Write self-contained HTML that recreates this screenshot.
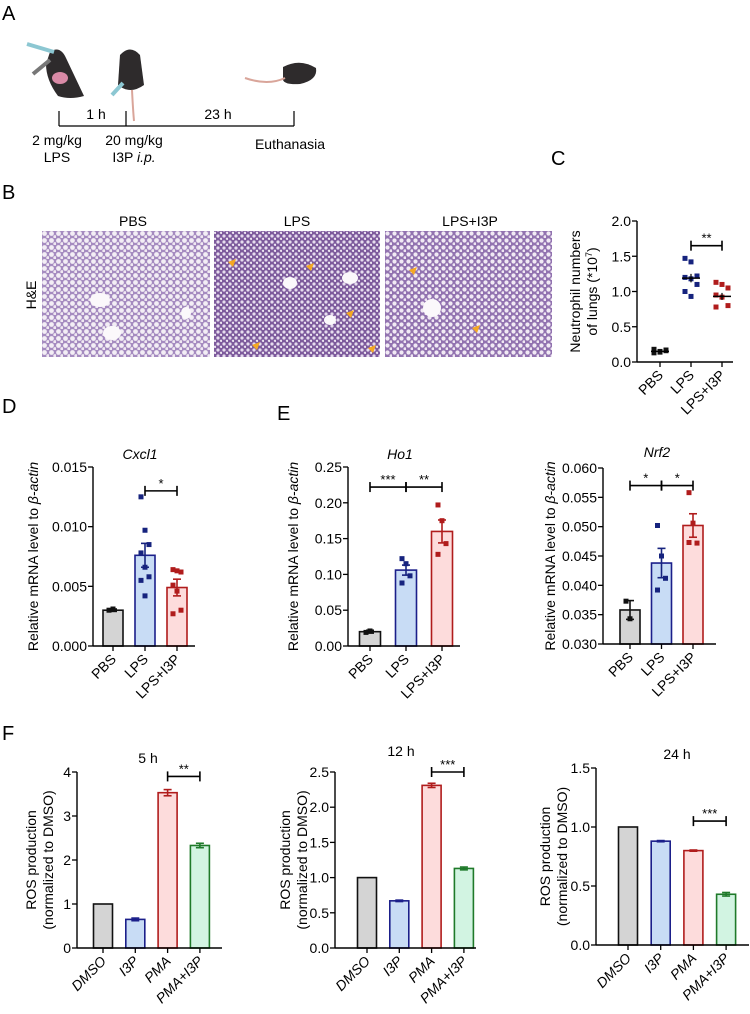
<!DOCTYPE html>
<html><head><meta charset="utf-8"><style>
html,body{margin:0;padding:0;background:#fff;}
svg{display:block;font-family:"Liberation Sans",Arial,sans-serif;}
</style></head><body>
<svg id="fig" width="750" height="1014" viewBox="0 0 750 1014" xmlns="http://www.w3.org/2000/svg">
<defs>
<pattern id="lungL" width="7" height="7" patternUnits="userSpaceOnUse"><rect width="7" height="7" fill="#a58bc0"/><circle cx="2.5" cy="2.5" r="2.4" fill="#f3eef5"/><circle cx="6" cy="5.8" r="1.7" fill="#f0e9f2"/></pattern>
<pattern id="lungD" width="6" height="6" patternUnits="userSpaceOnUse"><rect width="6" height="6" fill="#7d5a9c"/><circle cx="2" cy="2" r="1.6" fill="#e6dcee"/><circle cx="5" cy="4.8" r="1.2" fill="#ece4f1"/></pattern>
<pattern id="lungM" width="7" height="7" patternUnits="userSpaceOnUse"><rect width="7" height="7" fill="#9273b0"/><circle cx="2.5" cy="2.5" r="2.1" fill="#f1eaf4"/><circle cx="6" cy="5.8" r="1.5" fill="#efe7f2"/></pattern>
</defs>
<g font-size="20">
<text x="2" y="20">A</text>
<text x="2" y="199">B</text>
<text x="551" y="165">C</text>
<text x="2" y="413">D</text>
<text x="277" y="420">E</text>
<text x="2" y="740">F</text>
</g>
<!-- Panel A schematic -->
<g>
<path d="M50 52 Q60 45 66 58 L84 96 Q70 100 58 96 Q46 80 46 64 Z" fill="#2e2b2c"/>
<ellipse cx="60" cy="78" rx="8" ry="6" fill="#d98aa6"/>
<path d="M27 44 L54 52" stroke="#8cc7d2" stroke-width="4"/>
<path d="M33 74 L50 60" stroke="#777" stroke-width="4"/>
<path d="M120 55 Q130 44 140 55 L144 85 Q130 95 118 85 Z" fill="#2e2b2c"/>
<path d="M132 90 Q133 110 134 121" stroke="#d9a59a" stroke-width="2" fill="none"/>
<path d="M112 95 L123 83" stroke="#8cc7d2" stroke-width="4"/>
<path d="M283 67 Q300 58 316 68 Q318 80 300 84 Q285 85 283 80 Z" fill="#2e2b2c"/>
<path d="M245 78 Q268 86 285 78" stroke="#d9a59a" stroke-width="2" fill="none"/>
<g stroke="#000" stroke-width="1.2">
<line x1="59" y1="126" x2="294" y2="126"/><line x1="59" y1="111" x2="59" y2="126"/><line x1="126" y1="111" x2="126" y2="126"/><line x1="294" y1="111" x2="294" y2="126"/>
</g>
<g font-size="14" text-anchor="middle">
<text x="96" y="119">1 h</text><text x="218" y="119">23 h</text>
<text x="57" y="145">2 mg/kg</text><text x="57" y="162">LPS</text>
<text x="134" y="145">20 mg/kg</text><text x="134" y="162">I3P <tspan font-style="italic">i.p.</tspan></text>
<text x="290" y="149">Euthanasia</text>
</g>
</g>
<!-- Panel B -->
<g font-size="14" text-anchor="middle">
<text x="133" y="226">PBS</text><text x="297" y="226">LPS</text><text x="470" y="226">LPS+I3P</text>
<text transform="translate(36,295) rotate(-90)">H&amp;E</text>
<rect x="42" y="231" width="168" height="126" fill="url(#lungL)"/>
<rect x="214" y="231" width="166" height="126" fill="url(#lungD)"/>
<rect x="385" y="231" width="167" height="126" fill="url(#lungM)"/>
<g fill="#fbf8fb"><ellipse cx="100" cy="300" rx="10" ry="7"/><ellipse cx="112" cy="333" rx="9" ry="7"/><ellipse cx="186" cy="313" rx="5" ry="6"/><ellipse cx="290" cy="283" rx="7" ry="6"/><ellipse cx="330" cy="320" rx="6" ry="5"/><ellipse cx="432" cy="308" rx="9" ry="9"/><ellipse cx="350" cy="278" rx="8" ry="6"/></g>
<g fill="#f4a822"><path d="M228 262 l8 -3 l-3 8 z"/><path d="M306 266 l8 -3 l-3 8 z"/><path d="M346 313 l8 -3 l-3 8 z"/><path d="M252 345 l8 -3 l-3 8 z"/><path d="M368 348 l8 -3 l-3 8 z"/><path d="M409 270 l8 -3 l-3 8 z"/><path d="M472 328 l8 -3 l-3 8 z"/></g>
</g>
<g id="charts"></g>
</svg>
<script>
// Panel C
const cCats = ["PBS","LPS","LPS+I3P"];
const cPbsPts = [0.13,0.15,0.17,0.18,0.14,0.16];
const cLpsPts = [1.47,1.42,1.22,1.2,1.18,1.1,1.0,0.93];
const cI3pPts = [1.13,1.1,1.05,0.95,0.92,0.8,0.78];
const cMeans = [0.15,1.19,0.93];
const cSems = [0.01,0.06,0.05];
const cTicks = [0,0.5,1.0,1.5,2.0];
const cTickLabels = ["0.0","0.5","1.0","1.5","2.0"];
// Panel D Cxcl1
const dCats = ["PBS","LPS","LPS+I3P"];
const dMeans = [0.003,0.0076,0.0049];
const dSems = [0.0001,0.001,0.0007];
const dPbsPts = [0.003,0.0031];
const dLpsPts = [0.0125,0.0097,0.0085,0.0078,0.0066,0.0058,0.0055,0.0042];
const dI3pPts = [0.0064,0.0063,0.0062,0.0051,0.0046,0.0030,0.0027];
const dTicks = [0,0.005,0.010,0.015];
const dTickLabels = ["0.000","0.005","0.010","0.015"];
// Panel E Ho1
const hMeans = [0.02,0.106,0.16];
const hSems = [0.002,0.007,0.016];
const hPbsPts = [0.019,0.021];
const hLpsPts = [0.122,0.115,0.098,0.088];
const hI3pPts = [0.197,0.175,0.143,0.128];
const hTicks = [0,0.05,0.10,0.15,0.20,0.25];
const hTickLabels = ["0.00","0.05","0.10","0.15","0.20","0.25"];
// Panel E Nrf2
const nMeans = [0.0358,0.0438,0.0502];
const nSems = [0.0016,0.0025,0.002];
const nPbsPts = [0.0373,0.0343];
const nLpsPts = [0.0502,0.045,0.0412,0.0392];
const nI3pPts = [0.0558,0.0506,0.0472,0.0473];
const nTicks = [0.030,0.035,0.040,0.045,0.050,0.055,0.060];
const nTickLabels = ["0.030","0.035","0.040","0.045","0.050","0.055","0.060"];
// Panel F
const fCats = ["DMSO","I3P","PMA","PMA+I3P"];
const f5Means = [1,0.65,3.53,2.33];
const f5Errs = [0,0.03,0.07,0.05];
const f12Means = [1,0.67,2.31,1.13];
const f12Errs = [0,0.01,0.03,0.02];
const f24Means = [1,0.88,0.80,0.43];
const f24Errs = [0,0.005,0.005,0.015];
const f5Ticks = [0,1,2,3,4];
const f5TickLabels = ["0","1","2","3","4"];
const f12Ticks = [0,0.5,1.0,1.5,2.0,2.5];
const f12TickLabels = ["0.0","0.5","1.0","1.5","2.0","2.5"];
const f24Ticks = [0,0.5,1.0,1.5];
const f24TickLabels = ["0.0","0.5","1.0","1.5"];

const NS="http://www.w3.org/2000/svg";
const root=document.getElementById('charts');
function mk(tag,attrs,parent){const e=document.createElementNS(NS,tag);for(const k in attrs)e.setAttribute(k,attrs[k]);(parent||root).appendChild(e);return e;}
const FILLS=["#d4d4d4","#c8dcf5","#fddcdc","#d2f4e2"];
const STROKES=["#111","#1b1f8a","#b01c1c","#1f7a2a"];
const PTS=["#111","#16237e","#b01c1c"];

function chart(o){
  const g=mk('g',{});
  
  
  const y=v=>o.yBot-(v-o.vmin)/(o.vmax-o.vmin)*(o.yBot-o.yTop);
  const x=i=>o.ax+o.off+i*o.step;
  if(o.means){o.means.forEach((m,i)=>{
    const b=mk('rect',{x:x(i)-o.bw/2,y:y(m),width:o.bw,height:o.yBot-y(m),fill:FILLS[i],stroke:STROKES[i],'stroke-width':1.6},g);
    
    
  });}
  if(o.pts){o.pts.forEach((arr,i)=>{arr.forEach((v,j)=>{
    const dx=((j%3)-1)*(o.jit||5);
    const p=mk('rect',{x:x(i)+dx-2.5,y:y(v)-2.5,width:5,height:5,fill:PTS[i]},g);
    
    
  });});}
  if(o.means){o.means.forEach((m,i)=>{const e=o.errs[i];if(!e)return;
    const col=o.pts?PTS[i]:STROKES[i];
    mk('line',{x1:x(i),x2:x(i),y1:y(m-e),y2:y(m+e),stroke:col,'stroke-width':1.6},g);
    mk('line',{x1:x(i)-4,x2:x(i)+4,y1:y(m+e),y2:y(m+e),stroke:col,'stroke-width':1.6},g);
    mk('line',{x1:x(i)-4,x2:x(i)+4,y1:y(m-e),y2:y(m-e),stroke:col,'stroke-width':1.6},g);
  });}
  const ya=mk('line',{x1:o.ax,x2:o.ax,y1:o.yTop,y2:o.yBot,stroke:'#000','stroke-width':1.4},g);
  
  const xa=mk('line',{x1:o.ax,x2:o.xEnd,y1:o.yBot,y2:o.yBot,stroke:'#000','stroke-width':1.4},g);
  
  o.ticks.forEach((t,k)=>{mk('line',{x1:o.ax-5,x2:o.ax,y1:y(t),y2:y(t),stroke:'#000','stroke-width':1.3},g);
    const tl=mk('text',{x:o.ax-6,y:y(t)+5,'font-size':o.tfs||14,'text-anchor':'end'},g);tl.textContent=o.tickLabels[k];
    });
  o.cats.forEach((c,i)=>{mk('line',{x1:x(i),x2:x(i),y1:o.yBot,y2:o.yBot+5,stroke:'#000','stroke-width':1.3},g);
    const t=mk('text',{transform:`translate(${x(i)+4},${o.yBot+14}) rotate(-45)`,'font-size':14,'text-anchor':'end','font-style':o.ital?'italic':'normal'},g);
    t.textContent=c;});
  if(o.title){const t=mk('text',{x:o.titleX,y:o.titleY,'font-size':14,'text-anchor':'middle','font-style':o.titleItal?'italic':'normal'},g);t.textContent=o.title;
    }
  const yt=mk('text',{transform:`translate(${o.ytx},${(o.yTop+o.yBot)/2}) rotate(-90)`,'font-size':14,'text-anchor':'middle'},g);
  
  o.ytitle.forEach((ln,k)=>{const s=mk('tspan',{x:0,dy:k?17:0},yt);s.innerHTML=ln;});
  (o.brackets||[]).forEach(b=>{const yy=y(b[2]);
    mk('line',{x1:x(b[0]),x2:x(b[1]),y1:yy,y2:yy,stroke:'#000','stroke-width':1.6},g);
    mk('line',{x1:x(b[0]),x2:x(b[0]),y1:yy-5,y2:yy+5,stroke:'#000','stroke-width':1.6},g);
    mk('line',{x1:x(b[1]),x2:x(b[1]),y1:yy-5,y2:yy+5,stroke:'#000','stroke-width':1.6},g);
    const s=mk('text',{x:(x(b[0])+x(b[1]))/2,y:yy-3,'font-size':13,'text-anchor':'middle'},g);s.textContent=b[3];
    });
}
const actin='Relative mRNA level to <tspan font-style="italic">β-actin</tspan>';
(function(){
  const o={name:'chart-c-neutrophils',ax:637,off:23,step:31,xEnd:733,yTop:221,yBot:362,vmin:0,vmax:2,ticks:cTicks,tickLabels:cTickLabels,cats:cCats,ytx:580,ytitle:['Neutrophil numbers','of lungs (*10<tspan baseline-shift="super" font-size="9">7</tspan>)'],brackets:[[1,2,1.65,'**']],pts:[cPbsPts,cLpsPts,cI3pPts],jit:6};
  chart(o);
  const y=v=>o.yBot-(v-o.vmin)/(o.vmax-o.vmin)*(o.yBot-o.yTop);
  cMeans.forEach((m,i)=>{const cx=o.ax+o.off+i*o.step;
    mk('line',{x1:cx-9,x2:cx+9,y1:y(m),y2:y(m),stroke:'#000','stroke-width':1.5});
    mk('line',{x1:cx,x2:cx,y1:y(m-cSems[i]),y2:y(m+cSems[i]),stroke:'#000','stroke-width':1.2});
  });
})();
chart({name:'chart-d-cxcl1',ax:93,off:20,step:32,xEnd:195,yTop:467,yBot:646,vmin:0,vmax:0.015,ticks:dTicks,tickLabels:dTickLabels,cats:dCats,ytx:38,ytitle:[actin],means:dMeans,errs:dSems,pts:[dPbsPts,dLpsPts,dI3pPts],bw:20,title:'Cxcl1',titleItal:true,titleX:140,titleY:459,brackets:[[1,2,0.0130,'*']],jit:4});
chart({name:'chart-e-ho1',ax:348,off:22,step:36,xEnd:460,yTop:467,yBot:646,vmin:0,vmax:0.25,ticks:hTicks,tickLabels:hTickLabels,cats:dCats,ytx:298,ytitle:[actin],means:hMeans,errs:hSems,pts:[hPbsPts,hLpsPts,hI3pPts],bw:21,title:'Ho1',titleItal:true,titleX:400,titleY:459,brackets:[[0,1,0.222,'***'],[1,2,0.222,'**']],jit:4});
chart({name:'chart-e-nrf2',ax:603,off:27,step:31.5,xEnd:716,yTop:468,yBot:644,vmin:0.03,vmax:0.06,ticks:nTicks,tickLabels:nTickLabels,cats:dCats,ytx:555,ytitle:[actin],means:nMeans,errs:nSems,pts:[nPbsPts,nLpsPts,nI3pPts],bw:20,title:'Nrf2',titleItal:true,titleX:657,titleY:457,brackets:[[0,1,0.057,'*'],[1,2,0.057,'*']],jit:4});
const ros=['ROS production','(normalized to DMSO)'];
chart({name:'chart-f-5h',ax:77,off:26,step:32.3,xEnd:222,yTop:772,yBot:948,vmin:0,vmax:4,ticks:f5Ticks,tickLabels:f5TickLabels,cats:fCats,ital:true,ytx:36,ytitle:ros,means:f5Means,errs:f5Errs,bw:19,title:'5 h',titleX:148,titleY:763,brackets:[[2,3,3.9,'**']]});
chart({name:'chart-f-12h',ax:335,off:32,step:32.3,xEnd:476,yTop:772,yBot:948,vmin:0,vmax:2.5,ticks:f12Ticks,tickLabels:f12TickLabels,cats:fCats,ital:true,ytx:290,ytitle:ros,means:f12Means,errs:f12Errs,bw:19,title:'12 h',titleX:401,titleY:756,brackets:[[2,3,2.5,'***']]});
chart({name:'chart-f-24h',ax:596,off:32,step:32.7,xEnd:749,yTop:768,yBot:945,vmin:0,vmax:1.5,ticks:f24Ticks,tickLabels:f24TickLabels,cats:fCats,ital:true,ytx:550,ytitle:ros,means:f24Means,errs:f24Errs,bw:19,title:'24 h',titleX:677,titleY:759,brackets:[[2,3,1.05,'***']]});
</script>
</body></html>
